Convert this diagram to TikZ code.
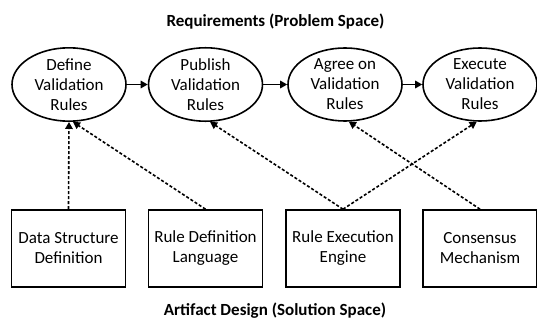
\documentclass[tikz,border=0pt]{standalone}
\usepackage{fontspec}
\setmainfont{Carlito}
\usetikzlibrary{shapes.geometric,arrows.meta}
\begin{document}
\begin{tikzpicture}[x=1pt,y=-1pt,
  every node/.style={font=\fontsize{17}{20}\selectfont, align=center},
  req/.style={draw, line width=1.6pt, ellipse, minimum width=114pt, minimum height=73pt, inner sep=0pt},
  art/.style={draw, line width=1.6pt, rectangle, minimum width=114pt, minimum height=77pt, inner sep=0pt},
  flow/.style={line width=1.6pt, -{Triangle[length=7pt,width=7.5pt]}},
  link/.style={line width=1.6pt, dash pattern=on 3pt off 2pt, -{Triangle[length=7pt,width=7.5pt]}},
  heading/.style={font=\fontsize{17}{20}\selectfont\bfseries}
]
\useasboundingbox (0,0) rectangle (537,320);
\node[heading] (top) at (275.5,22) {Requirements (Problem Space)};
\node[heading] (bot) at (275,311) {Artifact Design (Solution Space)};

\node[req] (e1) at (69,84.5) {Define\\Validation\\Rules};
\node[req] (e2) at (205.5,84.5) {Publish\\Validation\\Rules};
\node[req] (e3) at (345,84.5) {Agree on\\Validation\\Rules};
\node[req] (e4) at (480,84.5) {Execute\\Validation\\Rules};

\node[art] (b1) at (68.5,248.5) {Data Structure\\Definition};
\node[art] (b2) at (205.5,248.5) {Rule Definition\\Language};
\node[art] (b3) at (343,248.5) {Rule Execution\\Engine};
\node[art] (b4) at (480,248.5) {Consensus\\Mechanism};

\draw[flow] (e1.east) -- (e2.west);
\draw[flow] (e2.east) -- (e3.west);
\draw[flow] (e3.east) -- (e4.west);

\draw[link] (b1.north) -- (e1.south);
\draw[link] (b2.north) -- (e1.-84);
\draw[link] (b3.north) -- (e2.-83);
\draw[link] (b3.north) -- (e4.-95);
\draw[link] (b4.north) -- (e3.-84);
\end{tikzpicture}
\end{document}
